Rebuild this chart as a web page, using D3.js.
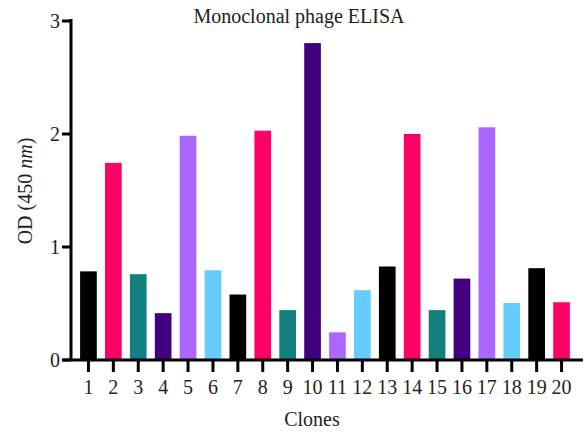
<!DOCTYPE html>
<html>
<head>
<meta charset="utf-8">
<script src="https://cdn.jsdelivr.net/npm/d3@7"></script>
<style>
  body { margin: 0; background: #fff; }
</style>
</head>
<body>
<script>
var clones = ['1','2','3','4','5','6','7','8','9','10','11','12','13','14','15','16','17','18','19','20'];
var odValues = [0.78, 1.74, 0.755, 0.41, 1.98, 0.79, 0.575, 2.025, 0.437, 2.80,
                0.24, 0.613, 0.823, 1.996, 0.437, 0.716, 2.055, 0.50, 0.808, 0.507];
var palette = ['#000000', '#ff0066', '#137f7f', '#420080', '#aa66ff', '#66ccff'];
var yTicks = [0, 1, 2, 3];

var width = 584,
    height = 432;
var font = 'Liberation Serif';

var svg = d3.select('body')
  .append('svg')
  .attr('width', width)
  .attr('height', height)
  .attr('font-family', font);

var x = d3.scaleBand()
  .domain(clones)
  .range([76, 574])
  .paddingInner(0.33)
  .paddingOuter(0.165);

var y = d3.scaleLinear()
  .domain([0, 3])
  .range([359.5, 20.5]);

// bars
svg.selectAll('rect.bar')
  .data(odValues)
  .enter()
  .append('rect')
  .attr('class', 'bar')
  .attr('x', function(d, i) { return x(clones[i]); })
  .attr('width', x.bandwidth())
  .attr('y', function(d) { return y(d); })
  .attr('height', function(d) { return y(0) - y(d); })
  .attr('fill', function(d, i) { return palette[i % palette.length]; });

// y axis
var yAxis = svg.append('g')
  .attr('transform', 'translate(71,0)')
  .call(d3.axisLeft(y).tickValues(yTicks).tickFormat(d3.format('d')).tickSize(9).tickPadding(2));

yAxis.attr('font-family', font).attr('font-size', 20);
yAxis.select('.domain').remove();
yAxis.append('line')
  .attr('x1', 0).attr('x2', 0)
  .attr('y1', y(3) - 1.5).attr('y2', y(0) + 1.5)
  .attr('stroke', '#000').attr('stroke-width', 3);
yAxis.selectAll('.tick line').attr('stroke', '#000').attr('stroke-width', 3);
yAxis.selectAll('.tick text')
  .attr('dy', '0.34em')
  .attr('fill', '#222');

// x axis
var xAxis = svg.append('g')
  .attr('transform', 'translate(0,' + (y(0) + 0.5) + ')')
  .call(d3.axisBottom(x).tickSize(12).tickPadding(8));

xAxis.attr('font-family', font).attr('font-size', 20);
xAxis.select('.domain').remove();
xAxis.append('line')
  .attr('x1', 62).attr('x2', 583)
  .attr('y1', 0).attr('y2', 0)
  .attr('stroke', '#000').attr('stroke-width', 3);
xAxis.selectAll('.tick line').attr('stroke', '#000').attr('stroke-width', 3);
xAxis.selectAll('.tick text')
  .attr('fill', '#222');

// title and axis labels
svg.append('text')
  .attr('x', 299)
  .attr('y', 23)
  .attr('text-anchor', 'middle')
  .attr('font-size', 20)
  .attr('fill', '#222')
  .text('Monoclonal phage ELISA');

svg.append('text')
  .attr('x', 312)
  .attr('y', 426)
  .attr('text-anchor', 'middle')
  .attr('font-size', 20)
  .attr('fill', '#222')
  .text('Clones');

var ylab = svg.append('text')
  .attr('transform', 'translate(32,191) rotate(-90)')
  .attr('text-anchor', 'middle')
  .attr('font-size', 20)
  .attr('fill', '#222');
ylab.append('tspan').text('OD (450 ');
ylab.append('tspan').attr('font-style', 'italic').text('nm');
ylab.append('tspan').text(')');
</script>
</body>
</html>
